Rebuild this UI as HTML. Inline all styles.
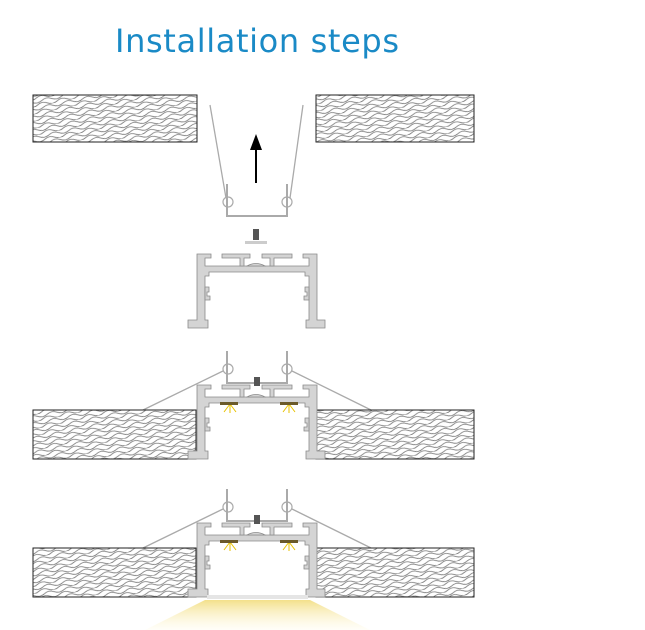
<!DOCTYPE html>
<html><head><style>body{margin:0;background:#fff}svg{display:block}</style></head><body>
<svg width="645" height="630" viewBox="0 0 645 630" xmlns="http://www.w3.org/2000/svg">
<defs>
<pattern id="wood" width="20" height="7" patternUnits="userSpaceOnUse" patternTransform="rotate(-12)">
<path d="M0 2 q5 -3 10 0 t10 0 M-5 5.5 q5 -3 10 0 t10 0 t10 0" stroke="#777" stroke-width="0.8" fill="none"/>
</pattern>
<linearGradient id="beam" x1="0" y1="0" x2="0" y2="1"><stop offset="0" stop-color="#f3e08a"/><stop offset="1" stop-color="#fffbe8" stop-opacity="0.3"/></linearGradient>
<g id="prof" fill="#d4d4d4" stroke="#8a8a8a" stroke-width="0.8">
<path d="M197 254 H211 V258 H205 V266 H309 V258 H303 V254 H317 V320 H325 V328 H306 V320 H309 V276 H305 V272 H209 V276 H205 V320 H208 V328 H188 V320 H197 Z"/>
<path d="M222 254 H250 V258 H244 V266 H240 V258 H222 Z M262 254 H292 V258 H274 V266 H270 V258 H262 Z"/>
<path d="M247 266 Q256 261 265 266 Z"/>
<path d="M205 287 h4 v5 h-2 v4 h3 v4 h-5z M309 287 h-4 v5 h2 v4 h-3 v4 h5z"/>
</g>
<g id="brk" fill="none" stroke="#aaa" stroke-width="2">
<path d="M227 -34 v32 h60 v-32"/>
<circle cx="228" cy="-16" r="5" stroke-width="1.2"/><circle cx="287" cy="-16" r="5" stroke-width="1.2"/>
</g>
</defs>
<text x="257" y="52" text-anchor="middle" font-family="DejaVu Sans, sans-serif" font-size="32" fill="#1a8ac6" textLength="284">Installation steps</text>
<!-- step1 -->
<rect x="33" y="95" width="164" height="47" fill="url(#wood)" stroke="#222"/>
<rect x="316" y="95" width="158" height="47" fill="url(#wood)" stroke="#222"/>
<use href="#brk" transform="translate(0,218)"/>
<path d="M210 105 L226 198 M303 105 L290 198" stroke="#aaa" stroke-width="1.3"/>
<path d="M256 183 V148" stroke="#000" stroke-width="2"/><path d="M250 150 L256 134 L262 150z" fill="#000"/>
<rect x="253" y="229" width="6" height="11" fill="#555"/><rect x="245" y="241" width="22" height="3" fill="#ccc"/>
<use href="#prof"/>
<!-- step3 -->
<use href="#brk" transform="translate(0,385)"/>
<path d="M223 371 L143 410 M292 371 L371 410" stroke="#aaa" stroke-width="1.3"/>
<rect x="33" y="410" width="163" height="49" fill="url(#wood)" stroke="#222"/>
<rect x="316" y="410" width="158" height="49" fill="url(#wood)" stroke="#222"/>
<use href="#prof" transform="translate(0,131)"/>
<rect x="254" y="377" width="6" height="9" fill="#555"/>
<g stroke="#e8c200" stroke-width="1"><path d="M230 404 l-6 8 M230 404 l0 9 M230 404 l6 8 M289 404 l-6 8 M289 404 l0 9 M289 404 l6 8"/></g>
<rect x="220" y="402" width="18" height="3" fill="#6b5a2a"/><rect x="280" y="402" width="18" height="3" fill="#6b5a2a"/>
<!-- step4 -->
<polygon points="205,600 310,600 370,630 145,630" fill="url(#beam)"/>
<use href="#brk" transform="translate(0,523)"/>
<path d="M223 509 L143 548 M292 509 L371 548" stroke="#aaa" stroke-width="1.3"/>
<rect x="33" y="548" width="163" height="49" fill="url(#wood)" stroke="#222"/>
<rect x="316" y="548" width="158" height="49" fill="url(#wood)" stroke="#222"/>
<use href="#prof" transform="translate(0,269)"/>
<rect x="207" y="595" width="101" height="4" fill="#e5e5e5"/>
<rect x="254" y="515" width="6" height="9" fill="#555"/>
<g stroke="#e8c200" stroke-width="1"><path d="M230 542 l-6 8 M230 542 l0 9 M230 542 l6 8 M289 542 l-6 8 M289 542 l0 9 M289 542 l6 8"/></g>
<rect x="220" y="540" width="18" height="3" fill="#6b5a2a"/><rect x="280" y="540" width="18" height="3" fill="#6b5a2a"/>
</svg>
</body></html>
